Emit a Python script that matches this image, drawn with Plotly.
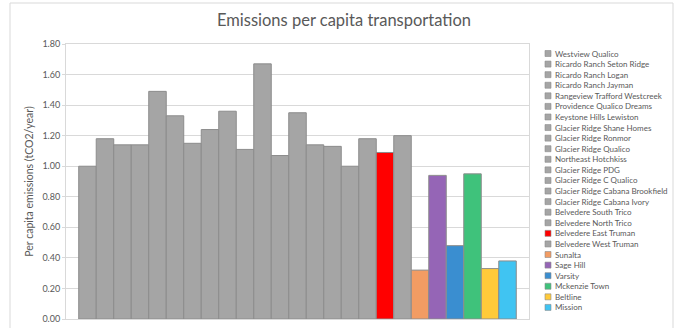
import plotly.graph_objects as go

# ---- data -------------------------------------------------------------
categories = [""]

series_names = [
    "Westview Qualico",
    "Ricardo Ranch Seton Ridge",
    "Ricardo Ranch Logan",
    "Ricardo Ranch Jayman",
    "Rangeview Trafford Westcreek",
    "Providence Qualico Dreams",
    "Keystone Hills Lewiston",
    "Glacier Ridge Shane Homes",
    "Glacier Ridge Ronmor",
    "Glacier Ridge Qualico",
    "Northeast Hotchkiss",
    "Glacier Ridge PDG",
    "Glacier Ridge C Qualico",
    "Glacier Ridge Cabana Brookfield",
    "Glacier Ridge Cabana Ivory",
    "Belvedere South Trico",
    "Belvedere North Trico",
    "Belvedere East Truman",
    "Belvedere West Truman",
    "Sunalta",
    "Sage Hill",
    "Varsity",
    "Mckenzie Town",
    "Beltline",
    "Mission",
]

series_values = [
    1.00, 1.18, 1.14, 1.14, 1.49, 1.33, 1.15, 1.24, 1.36, 1.11,
    1.67, 1.07, 1.35, 1.14, 1.13, 1.00, 1.18, 1.09, 1.20,
    0.32, 0.94, 0.48, 0.95, 0.33, 0.38,
]

GREY = "#a5a5a5"
series_colors = [GREY] * 17 + [
    "#ff0000",  # Belvedere East Truman
    GREY,       # Belvedere West Truman
    "#f29c63",  # Sunalta
    "#9565b6",  # Sage Hill
    "#3a8ed0",  # Varsity
    "#3fc27b",  # Mckenzie Town
    "#ffca3a",  # Beltline
    "#40c4f2",  # Mission
]

y_ticks = [0.0, 0.2, 0.4, 0.6, 0.8, 1.0, 1.2, 1.4, 1.6, 1.8]
y_tick_labels = ["0.00", "0.20", "0.40", "0.60", "0.80",
                 "1.00", "1.20", "1.40", "1.60", "1.80"]

# ---- geometry ---------------------------------------------------------
W, H = 676, 328
L, R, T, B = 66, 147, 44, 9
PW, PH = W - L - R, H - T - B
TEXT = "#595959"
GRID = "#d9d9d9"
EDGE = "#8c8c8c"


def px_x(x):
    return (x - L) / PW


def px_y(y):
    return (H - B - y) / PH


fig = go.Figure()
for name, val, col in zip(series_names, series_values, series_colors):
    fig.add_bar(
        x=categories, y=[val], name=name, showlegend=False,
        marker=dict(color=col, line=dict(color=EDGE, width=1)),
    )

shapes = [
    dict(type="rect", xref="paper", yref="paper",
         x0=px_x(10), x1=px_x(673), y0=px_y(340), y1=px_y(3),
         line=dict(color=GRID, width=1), layer="below"),
]
annotations = []

# legend, one row per series
LEG_TOP, LEG_STEP = 53.5, 10.58
for i, (name, col) in enumerate(zip(series_names, series_colors)):
    yc = LEG_TOP + i * LEG_STEP
    shapes.append(dict(
        type="rect", xref="paper", yref="paper",
        x0=px_x(545), x1=px_x(551), y0=px_y(yc + 3), y1=px_y(yc - 3),
        fillcolor=col, line=dict(color=EDGE, width=0.6),
    ))
    annotations.append(dict(
        x=px_x(553), y=px_y(yc), xref="paper", yref="paper",
        xanchor="left", yanchor="middle", showarrow=False,
        text=name, font=dict(size=8, color=TEXT),
    ))

fig.update_layout(
    width=W, height=H,
    margin=dict(l=L, r=R, t=T, b=B, autoexpand=False),
    barmode="group", bargap=0.055, bargroupgap=0,
    paper_bgcolor="white", plot_bgcolor="white",
    font=dict(family="Lato, Carlito, sans-serif", color=TEXT),
    title=dict(
        text="Emissions per capita transportation",
        xref="container", yref="container",
        x=344 / W, y=1 - 20 / H, xanchor="center", yanchor="middle",
        font=dict(size=16.5, color=TEXT),
    ),
    xaxis=dict(
        range=[-0.5, 0.5], showticklabels=False, showgrid=False,
        showline=True, linecolor=GRID, mirror=True, zeroline=False,
    ),
    yaxis=dict(
        range=[0, 1.8], tickvals=y_ticks, ticktext=y_tick_labels,
        showgrid=True, gridcolor=GRID, gridwidth=1,
        showline=True, linecolor=GRID, mirror=True, zeroline=False,
        ticks="outside", ticklen=3, tickcolor=GRID,
        tickfont=dict(size=9, color=TEXT),
        title=dict(text="Per capita emissions (tCO2/year)",
                   font=dict(size=10.5, color=TEXT), standoff=6),
    ),
    shapes=shapes,
    annotations=annotations,
)

fig.write_html("out.html")
